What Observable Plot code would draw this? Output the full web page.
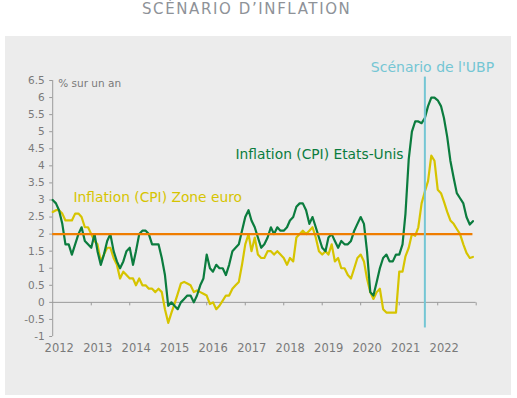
<!DOCTYPE html>
<html><head><meta charset="utf-8">
<script src="https://cdn.jsdelivr.net/npm/d3@7"></script>
<script src="https://cdn.jsdelivr.net/npm/@observablehq/plot@0.6"></script>
<style>
html,body{margin:0;padding:0;background:#fff;}
body{width:517px;height:398px;position:relative;overflow:hidden;font-family:"DejaVu Sans",sans-serif;}
#title{position:absolute;left:142px;top:2px;font-size:15px;line-height:15px;letter-spacing:1.6px;color:#8e9298;white-space:nowrap;}
#panel{position:absolute;left:5px;top:36px;width:506px;height:359px;background:#ececec;}
#panel svg{display:block;overflow:visible;}
</style></head><body>
<div id="title">SCÉNARIO D’INFLATION</div>
<div id="panel"></div>
<script>
const startMonth = "2012-01";
const usCPI = [
  3.0, 2.9, 2.7, 2.3, 1.7, 1.7, 1.4, 1.7, 2.0, 2.2, 1.8, 1.7,
  1.6, 2.0, 1.5, 1.1, 1.4, 1.8, 2.0, 1.5, 1.2, 1.0, 1.2, 1.5,
  1.6, 1.1, 1.5, 2.0, 2.1, 2.1, 2.0, 1.7, 1.7, 1.7, 1.3, 0.8,
  -0.1, 0.0, -0.1, -0.2, 0.0, 0.1, 0.2, 0.2, 0.0, 0.2, 0.5, 0.7,
  1.4, 1.0, 0.9, 1.1, 1.0, 1.0, 0.8, 1.1, 1.5, 1.6, 1.7, 2.1,
  2.5, 2.7, 2.4, 2.2, 1.9, 1.6, 1.7, 1.9, 2.2, 2.0, 2.2, 2.1,
  2.1, 2.2, 2.4, 2.5, 2.8, 2.9, 2.9, 2.7, 2.3, 2.5, 2.2, 1.9,
  1.6, 1.5, 1.9, 2.0, 1.8, 1.6, 1.8, 1.7, 1.7, 1.8, 2.1, 2.3,
  2.5, 2.3, 1.5, 0.3, 0.2, 0.6, 1.0, 1.3, 1.4, 1.2, 1.2, 1.4,
  1.4, 1.7, 2.6, 4.2, 5.0, 5.3, 5.3, 5.25, 5.4, 5.75, 6.0, 6.0,
  5.92, 5.75, 5.4, 4.85, 4.15, 3.65, 3.2, 3.05, 2.9, 2.5, 2.28, 2.38
];
const euroCPI = [
  2.65, 2.7, 2.7, 2.6, 2.4, 2.4, 2.4, 2.6, 2.6, 2.5, 2.2, 2.2,
  2.0, 1.8, 1.7, 1.2, 1.4, 1.6, 1.6, 1.3, 1.1, 0.7, 0.9, 0.8,
  0.7, 0.7, 0.5, 0.7, 0.5, 0.5, 0.4, 0.4, 0.3, 0.4, 0.3, -0.2,
  -0.6, -0.3, -0.05, 0.25, 0.55, 0.6, 0.55, 0.5, 0.3, 0.35, 0.3, 0.25,
  0.2, -0.05, 0.0, -0.2, -0.1, 0.05, 0.2, 0.2, 0.4, 0.5, 0.6, 1.1,
  1.7, 2.0, 1.5, 1.9, 1.4, 1.3, 1.3, 1.5, 1.5, 1.4, 1.5, 1.4,
  1.3, 1.1, 1.3, 1.2, 1.9, 2.0, 2.1, 2.0, 2.1, 2.2, 1.9, 1.5,
  1.4, 1.5, 1.4, 1.7, 1.2, 1.3, 1.0, 1.0, 0.8, 0.7, 1.0, 1.3,
  1.4, 1.2, 0.7, 0.3, 0.1, 0.3, 0.4, -0.2, -0.3, -0.3, -0.3, -0.3,
  0.9, 0.9, 1.35, 1.6, 2.0, 1.95, 2.2, 2.9, 3.25, 3.55, 4.3, 4.15,
  3.3, 3.2, 2.95, 2.65, 2.4, 2.3, 2.15, 2.0, 1.7, 1.45, 1.3, 1.33
];
const yearLabels = ["2012","2013","2014","2015","2016","2017","2018","2019","2020","2021","2022"];
const yTicks = [-1,-0.5,0,0.5,1,1.5,2,2.5,3,3.5,4,4.5,5,5.5,6,6.5];
const yTickLabels = ["-1","-0.5","0","0.5","1","1.5","2","2.5","3","3.5","4","4.5","5","5.5","6","6.5"];
const targetRate = [2];
const scenarioMonth = "2021-09";
const scenarioSpan = [-0.75, 6.6];
const seriesNames = ["Inflation (CPI) Etats-Unis", "Inflation (CPI) Zone euro"];
const scenarioLabel = "Scénario de l'UBP";
const unitLabel = "% sur un an";

const usColor = "#0b7c3e", euroColor = "#d6c400", orange = "#ef7d00", cyan = "#74c6d4";
const axisGray = "#9a9a9a", textGray = "#7a7a7a";

const parseMonth = d3.utcParse("%Y-%m");
const parseYear = d3.utcParse("%Y");
const start = parseMonth(startMonth);
const months = d3.utcMonth.range(start, d3.utcMonth.offset(start, usCPI.length));
const yearDates = yearLabels.map(parseYear);
const xEnd = d3.utcYear.offset(yearDates[yearDates.length - 1], 1);
const xDomain = [yearDates[0], xEnd];
const zeroTicks = yearDates.slice(1).concat([xEnd]);
const scenarioDate = parseMonth(scenarioMonth);
const yLabelMap = new Map(yTicks.map((t, i) => [t, yTickLabels[i]]));

const tickDown = {draw(ctx) { ctx.moveTo(0, 0); ctx.lineTo(0, 3); }};

const chart = Plot.plot({
  width: 506, height: 359,
  marginLeft: 47.2, marginRight: 35.3, marginTop: 44, marginBottom: 59,
  style: {background: "transparent", fontFamily: "DejaVu Sans", overflow: "visible"},
  x: {type: "utc", domain: xDomain, axis: null},
  y: {domain: [yTicks[0], yTicks[yTicks.length - 1]], axis: null},
  marks: [
    Plot.ruleX([xDomain[0]], {y1: yTicks[0], y2: yTicks[yTicks.length - 1], stroke: axisGray, strokeWidth: 1}),
    Plot.axisY({ticks: yTicks, tickSize: 3, tickPadding: 5, tickFormat: d => yLabelMap.get(d),
      fontSize: 10.5, stroke: axisGray, fill: textGray}),
    Plot.ruleY([0], {x1: xDomain[0], x2: xDomain[1], stroke: axisGray, strokeWidth: 1}),
    Plot.dot(zeroTicks, {x: d => d, y: 0, symbol: tickDown, stroke: axisGray, fill: "none", strokeWidth: 1}),
    Plot.text(yearDates, {x: d => d, y: yTicks[0], text: (d, i) => yearLabels[i], dx: 6.5, dy: 11.5,
      fontSize: 11.5, fill: textGray}),
    Plot.text([unitLabel], {x: xDomain[0], y: yTicks[yTicks.length - 1], text: d => d, dx: 5.5, dy: 3,
      textAnchor: "start", fontSize: 10.5, fill: textGray}),
    Plot.lineY(euroCPI, {x: (d, i) => months[i], y: d => d, stroke: euroColor, strokeWidth: 2.2, strokeLinejoin: "round"}),
    Plot.lineY(usCPI, {x: (d, i) => months[i], y: d => d, stroke: usColor, strokeWidth: 2.2, strokeLinejoin: "round"}),
    Plot.ruleY(targetRate, {x1: months[0], x2: months[months.length - 1], stroke: orange, strokeWidth: 2.2}),
    Plot.ruleX([scenarioDate], {y1: scenarioSpan[0], y2: scenarioSpan[1], stroke: cyan, strokeWidth: 2}),
    Plot.text([scenarioLabel], {x: scenarioDate, frameAnchor: "top", text: d => d, dx: 7.6, dy: -8.3,
      lineAnchor: "bottom", textAnchor: "middle", fontSize: 14, fill: cyan}),
    Plot.text([seriesNames[0]], {frameAnchor: "top-left", text: d => d, dx: 182.8, dy: 78,
      textAnchor: "start", lineAnchor: "bottom", fontSize: 13.8, fill: usColor}),
    Plot.text([seriesNames[1]], {frameAnchor: "top-left", text: d => d, dx: 20.8, dy: 121.5,
      textAnchor: "start", lineAnchor: "bottom", fontSize: 13.8, fill: euroColor})
  ]
});
document.getElementById("panel").appendChild(chart);
</script>
</body></html>
